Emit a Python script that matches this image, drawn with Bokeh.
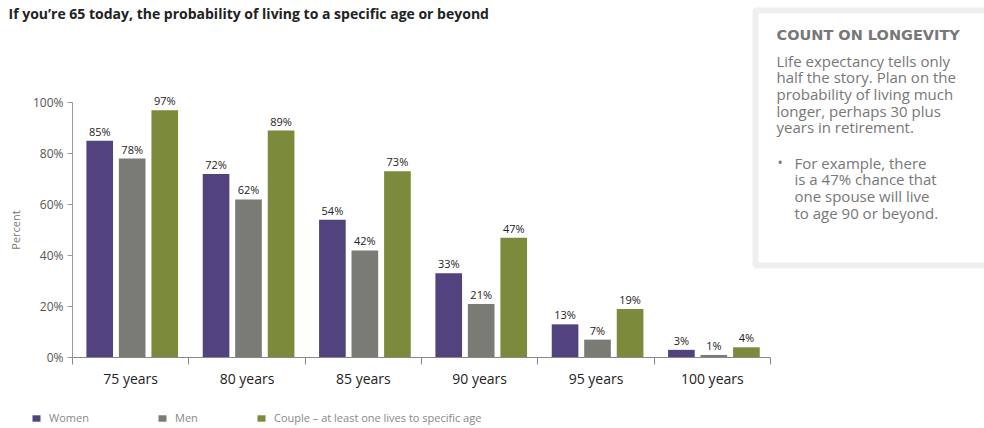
from bokeh.plotting import figure
from bokeh.models import (Range1d, FixedTicker, Label, BoxAnnotation, Legend,
                          LegendItem, ColumnDataSource)
from bokeh.core.properties import value
from bokeh.embed import file_html
from bokeh.resources import INLINE

# ---- data ----
categories = ["75 years", "80 years", "85 years", "90 years", "95 years", "100 years"]
women = [85, 72, 54, 33, 13, 3]
men = [78, 62, 42, 21, 7, 1]
couple = [97, 89, 73, 47, 19, 4]
series_names = ["Women", "Men", "Couple \u2013 at least one lives to specific age"]
y_ticks = [0, 20, 40, 60, 80, 100]
y_tick_labels = ["0%", "20%", "40%", "60%", "80%", "100%"]

title_text = "If you\u2019re 65 today, the probability of living to a specific age or beyond"
side_title = "COUNT ON LONGEVITY"
side_lines = ["Life expectancy tells only", "half the story. Plan on the",
              "probability of living much", "longer, perhaps 30 plus",
              "years in retirement."]
bullet_lines = ["For example, there", "is a 47% chance that",
                "one spouse will live", "to age 90 or beyond."]

# ---- styles / geometry (page pixels) ----
colors = ["#52437e", "#7a7b74", "#7b8a3b"]
offsets = [-0.266, 0.013, 0.293]
BAR_W = 0.229
FONT = "Open Sans"
NCAT = len(categories)

W, H = 984, 428
AX_X0, AX_X1 = 72, 770      # x axis extent in pixels
AX_Y0, AX_Y100 = 357, 102   # pixel rows of 0% and 100%
PXU = (AX_X1 - AX_X0) / NCAT
PYU = (AX_Y0 - AX_Y100) / 100.0


def X(px):
    return (px - AX_X0) / PXU


def Y(py):
    return (AX_Y0 - py) / PYU


p = figure(width=W, height=H, output_backend="svg", toolbar_location=None,
           x_range=Range1d(X(0), X(W)), y_range=Range1d(Y(H), Y(0)),
           min_border=0, min_border_left=0, min_border_right=0,
           min_border_top=0, min_border_bottom=0)
p.outline_line_color = None
p.grid.grid_line_color = None

# ---- bars & value labels ----
centers = [i + 0.5 for i in range(NCAT)]
renderers = []
for vals, col, off in zip([women, men, couple], colors, offsets):
    src = ColumnDataSource(dict(x=[c + off for c in centers], top=vals,
                                lab=[f"{v}%" for v in vals]))
    r = p.vbar(x="x", top="top", bottom=0, width=BAR_W, source=src,
               fill_color=col, line_color=None)
    renderers.append(r)
    p.text(x="x", y="top", text="lab", source=src, text_align="center",
           text_baseline="bottom", y_offset=-2, text_font_size="11px",
           text_color="#222222", text_font=value(FONT))

# ---- axes (drawn at fixed data locations) ----
xa = p.xaxis[0]
xa.fixed_location = 0
xa.bounds = (0, NCAT)
xa.ticker = FixedTicker(ticks=centers, minor_ticks=list(range(NCAT + 1)))
xa.major_label_overrides = {c: lab for c, lab in zip(centers, categories)}
xa.major_tick_out = 0
xa.major_tick_in = 0
xa.minor_tick_out = 7
xa.minor_tick_in = 0
xa.minor_tick_line_color = "#888888"
xa.axis_line_color = "#888888"
xa.major_label_text_font_size = "14px"
xa.major_label_text_color = "#222222"
xa.major_label_text_font = FONT
xa.major_label_standoff = 4

ya = p.yaxis[0]
ya.fixed_location = 0
ya.bounds = (0, 100)
ya.ticker = FixedTicker(ticks=y_ticks)
ya.major_label_overrides = {tk: l for tk, l in zip(y_ticks, y_tick_labels)}
ya.minor_tick_line_color = None
ya.major_tick_out = 5
ya.major_tick_in = 0
ya.axis_line_color = "#999999"
ya.major_tick_line_color = "#999999"
ya.major_label_text_font_size = "12px"
ya.major_label_text_color = "#555555"
ya.major_label_text_font = FONT
ya.major_label_standoff = 4
ya.axis_label = "Percent"
ya.axis_label_text_font_size = "11px"
ya.axis_label_text_font_style = "normal"
ya.axis_label_text_color = "#777777"
ya.axis_label_text_font = FONT
ya.axis_label_standoff = 7

# ---- title ----
p.add_layout(Label(x=X(8), y=Y(13), text=title_text, text_baseline="alphabetic",
                   text_font_size="14px", text_font_style="bold",
                   text_color="#222222", text_font=FONT))

# ---- legend: one small legend per series, placed along the bottom ----
leg_x = [31, 157, 256]
for name, r, lx in zip(series_names, renderers, leg_x):
    lg = Legend(items=[LegendItem(label=name, renderers=[r])],
                location=(lx, 3), padding=0, margin=0,
                glyph_width=10, glyph_height=8, label_standoff=8,
                label_height=14, border_line_color=None,
                background_fill_alpha=0, label_text_font_size="11px",
                label_text_color="#888888", label_text_font=FONT)
    p.add_layout(lg, "center")

# ---- sidebar ----
p.add_layout(BoxAnnotation(left=X(755), right=X(1000), top=Y(10), bottom=Y(265),
                           fill_color="white", fill_alpha=1.0,
                           line_color="#c9cac4", line_width=6))
p.add_layout(Label(x=X(776), y=Y(34), text=side_title, text_baseline="alphabetic",
                   text_font_size="14.5px", text_font_style="bold",
                   text_color="#777777", text_font="DejaVu Sans"))
for i, txt in enumerate(side_lines):
    p.add_layout(Label(x=X(776), y=Y(60 + i * 16.7), text=txt,
                       text_baseline="alphabetic", text_font_size="15px",
                       text_color="#777777", text_font=FONT))
p.add_layout(Label(x=X(777), y=Y(162), text="\u2022", text_baseline="alphabetic",
                   text_font_size="14px", text_color="#777777", text_font=FONT))
for i, txt in enumerate(bullet_lines):
    p.add_layout(Label(x=X(794), y=Y(162 + i * 16.9), text=txt,
                       text_baseline="alphabetic", text_font_size="15px",
                       text_color="#777777", text_font=FONT))

open("out.html", "w").write(file_html(p, INLINE))
